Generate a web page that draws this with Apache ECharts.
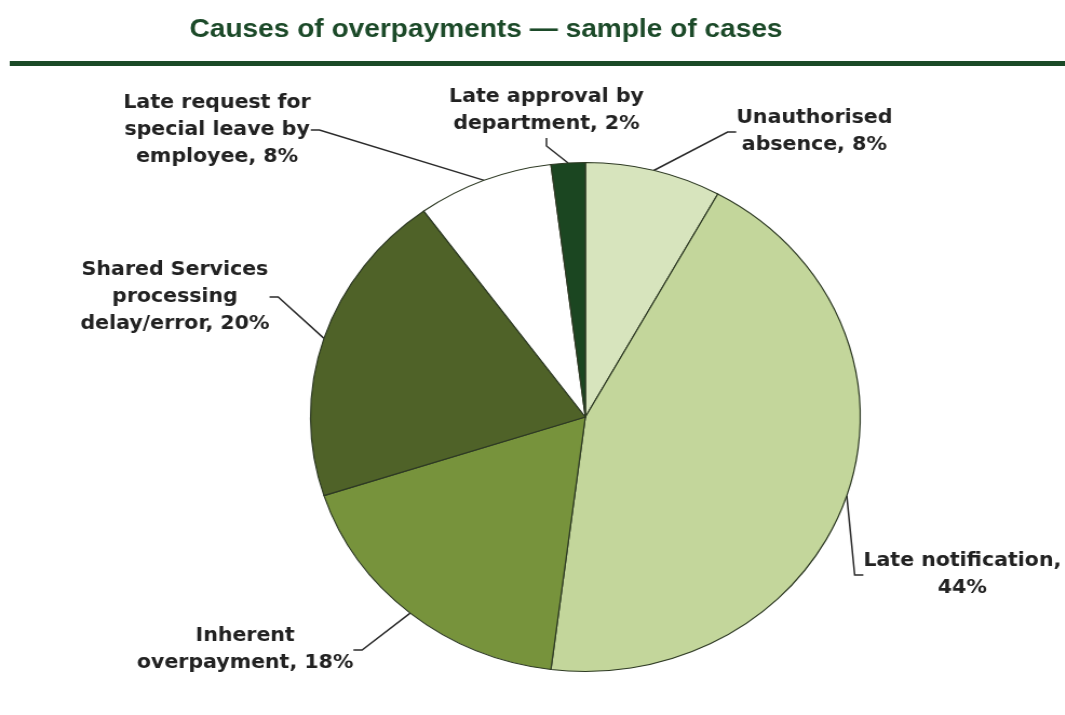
<!DOCTYPE html>
<html>
<head>
<meta charset="utf-8">
<script src="https://cdn.jsdelivr.net/npm/echarts@6/dist/echarts.min.js"></script>
<style>
  html, body { margin: 0; padding: 0; background: #ffffff; overflow: hidden; }
  #wrap { width: 1065px; height: 715px; overflow: hidden; position: relative; }
  #chart { width: 986px; height: 715px; transform: scaleX(1.08); transform-origin: 0 0; }
</style>
</head>
<body>
<div id="wrap"><div id="chart"></div></div>
<script>
// ---- data ----
const categories = [
  'Unauthorised\nabsence',
  'Late notification',
  'Inherent\noverpayment',
  'Shared Services\nprocessing\ndelay/error',
  'Late request for\nspecial leave by\nemployee',
  'Late approval by\ndepartment'
];
const values = [8, 44, 18, 20, 8, 2];
const valueOnOwnLine = ['Late notification'];
const titleText = 'Causes of overpayments \u2014 sample of cases';

// ---- styles / layout (not data) ----
const colors = ['#d7e4bd', '#c3d69b', '#77933c', '#4f6228', '#ffffff', '#1b4621'];
const labelPos = [
  [754, 132], [891, 575], [227, 650], [162, 297], [201, 130], [506, 111]
];

const chart = echarts.init(document.getElementById('chart'), null, { renderer: 'canvas' });
chart.setOption({
  animation: false,
  backgroundColor: '#ffffff',
  title: {
    text: titleText,
    left: 445, top: 12, textAlign: 'center',
    textStyle: { fontFamily: 'Liberation Sans, Arial, sans-serif', fontWeight: 'bold', fontSize: 26, color: '#1c4a29' }
  },
  graphic: [{
    type: 'rect', shape: { x: 9, y: 61, width: 990, height: 5 },
    style: { fill: '#1b4a27' }, silent: true
  }],
  series: [{
    type: 'pie',
    center: [542, 417],
    radius: 254.5,
    startAngle: 90,
    clockwise: true,
    data: categories.map((c, i) => ({ name: c, value: values[i], itemStyle: { color: colors[i] } })),
    itemStyle: { borderColor: '#2e3a24', borderWidth: 1.2 },
    label: {
      show: true,
      position: 'outside',
      overflow: 'none',
      formatter: p => p.name + ',' + (valueOnOwnLine.indexOf(p.name) >= 0 ? '\n' : ' ') + p.value + '%',
      fontFamily: 'DejaVu Sans, Verdana, sans-serif',
      fontWeight: 'bold',
      fontSize: 19,
      lineHeight: 27,
      color: '#222222',
      align: 'center'
    },
    labelLine: {
      show: true, length: 10, length2: 8,
      lineStyle: { color: '#2a2a2a', width: 1.5 }
    },
    labelLayout: params => ({
      x: labelPos[params.dataIndex][0],
      y: labelPos[params.dataIndex][1],
      align: 'center',
      verticalAlign: 'middle'
    }),
    emphasis: { disabled: true }
  }]
});
</script>
</body>
</html>
